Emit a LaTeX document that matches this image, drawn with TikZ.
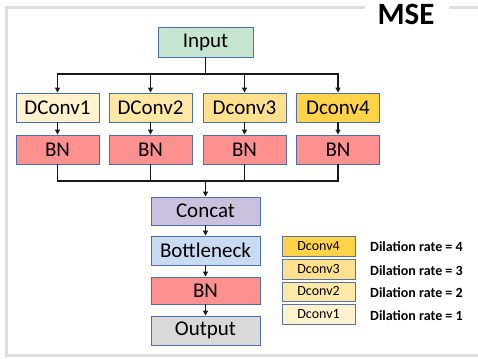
\documentclass[tikz,border=0pt]{standalone}
\usepackage{fontspec}
\setmainfont{Carlito}
\usetikzlibrary{arrows.meta}
\definecolor{bord}{HTML}{4A6FAE}
\definecolor{cin}{HTML}{C6E5D1}
\definecolor{cd1}{HTML}{FFF2CC}
\definecolor{cd2}{HTML}{FFE7A5}
\definecolor{cd3}{HTML}{FFE08F}
\definecolor{cd4}{HTML}{FFD347}
\definecolor{cbn}{HTML}{FF9090}
\definecolor{ccat}{HTML}{CBC0DD}
\definecolor{cbot}{HTML}{C9DBF3}
\definecolor{cout}{HTML}{D9D9D9}
\definecolor{cframe}{HTML}{DEDEDE}
\tikzset{
  box/.style={draw=bord, line width=0.9pt, inner sep=0pt, font=\fontsize{21}{23}\selectfont},
  rowbox/.style={box, minimum width=83pt, minimum height=29pt},
  midbox/.style={box, minimum width=109pt},
  legbox/.style={draw=bord!70!gray, line width=0.9pt, inner sep=0pt, minimum width=73pt, minimum height=20pt, font=\fontsize{14}{16}\selectfont},
  leglab/.style={anchor=west, inner sep=0pt, font=\fontsize{14}{16}\selectfont\bfseries},
  conn/.style={line width=1.1pt, draw=black!90},
  arr/.style={conn, -{Triangle[length=5pt,width=5pt]}}
}
\begin{document}
\begin{tikzpicture}[x=1pt,y=-1pt]
\useasboundingbox (0,0) rectangle (478,358);
% frame
\draw[cframe, line width=3pt] (365,8) -- (6,8) -- (6,355) -- (480,355);
\draw[cframe, line width=3pt] (449,8) -- (480,8);
\node[font=\fontsize{31}{33}\selectfont\bfseries] (title) at (406,14) {MSE};
% nodes
\node[box, fill=cin, minimum width=95pt, minimum height=30pt] (in) at (205.5,42) {Input};
\node[rowbox, fill=cd1] (d1) at (57.5,107.5) {DConv1};
\node[rowbox, fill=cd2] (d2) at (150.5,107.5) {DConv2};
\node[rowbox, fill=cd3] (d3) at (244.5,107.5) {Dconv3};
\node[rowbox, fill=cd4] (d4) at (338,107.5) {Dconv4};
\node[rowbox, fill=cbn] (b1) at (57.5,149.5) {BN};
\node[rowbox, fill=cbn] (b2) at (150.5,149.5) {BN};
\node[rowbox, fill=cbn] (b3) at (244.5,149.5) {BN};
\node[rowbox, fill=cbn] (b4) at (338,149.5) {BN};
\node[midbox, fill=ccat, minimum height=28pt] (cat) at (205.5,211) {Concat};
\node[midbox, fill=cbot, minimum height=29pt] (bot) at (205.5,250.5) {Bottleneck};
\node[midbox, fill=cbn, minimum height=27pt] (bn) at (205.5,290.5) {BN};
\node[midbox, fill=cout, minimum height=29pt] (out) at (205.5,330.5) {Output};
% legend
\node[legbox, fill=cd4] (l4) at (318.5,246) {Dconv4};
\node[legbox, fill=cd3] (l3) at (318.5,269) {Dconv3};
\node[legbox, fill=cd2, minimum height=19pt] (l2) at (318.5,291.5) {Dconv2};
\node[legbox, fill=cd1] (l1) at (318.5,314) {Dconv1};
\node[leglab] (t4) at (370,247) {Dilation rate = 4};
\node[leglab] (t3) at (370,271) {Dilation rate = 3};
\node[leglab] (t2) at (370,293) {Dilation rate = 2};
\node[leglab] (t1) at (370,316) {Dilation rate = 1};
% connectors
\coordinate (split) at (205.5,74);
\coordinate (merge) at (205.5,181);
\draw[conn] (in) -- (split);
\foreach \n in {d1,d2,d3,d4} \draw[arr] (split) -| (\n);
\draw[arr] (d1) -- (b1);
\draw[arr] (d2) -- (b2);
\draw[arr] (d3) -- (b3);
\draw[arr] (d4) -- (b4);
\foreach \n in {b1,b2,b3,b4} \draw[conn] (\n) |- (merge);
\draw[arr] (merge) -- (cat);
\draw[arr] (cat) -- (bot);
\draw[arr] (bot) -- (bn);
\draw[arr] (bn) -- (out);
\end{tikzpicture}
\end{document}
